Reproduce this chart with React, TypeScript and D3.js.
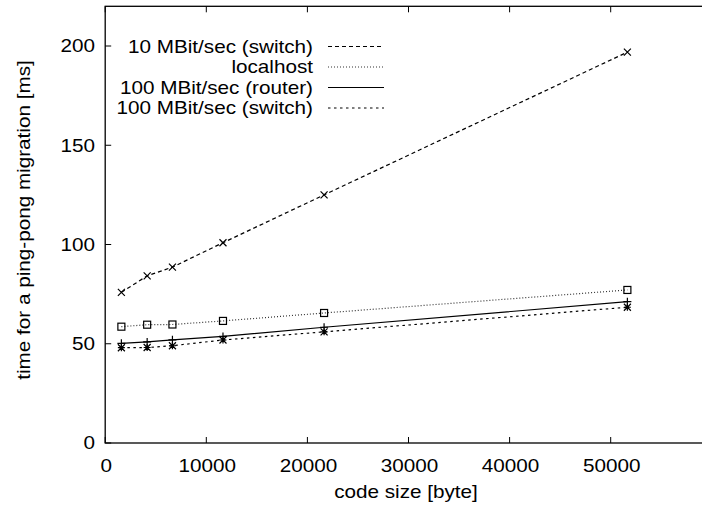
import React from "react";
import * as d3 from "d3";

const codeSizes = [1600, 4150, 6650, 11650, 21650, 51650];
const switch10 = [75.9, 84.2, 88.6, 100.9, 125.0, 196.9];
const localhost = [58.6, 59.6, 59.7, 61.5, 65.5, 77.1];
const router100 = [50.2, 50.9, 52.0, 53.7, 58.3, 71.2];
const switch100 = [48.0, 48.1, 49.0, 51.9, 56.0, 68.4];

const xTicks = [0, 10000, 20000, 30000, 40000, 50000];
const yTicks = [0, 50, 100, 150, 200];

const seriesNames = [
  "10 MBit/sec (switch)",
  "localhost",
  "100 MBit/sec (router)",
  "100 MBit/sec (switch)",
];

const W = 702;
const H = 507;
const font = "'Liberation Sans', Arial, sans-serif";
const sx = 1.15; // reference glyphs are a bit wider than Liberation Sans

type Series = { name: string; values: number[]; dash: string; marker: string; color: string };

const series: Series[] = [
  { name: seriesNames[0], values: switch10, dash: "4,3", marker: "x", color: "#000" },
  { name: seriesNames[1], values: localhost, dash: "1,2", marker: "box", color: "#333" },
  { name: seriesNames[2], values: router100, dash: "", marker: "plus", color: "#000" },
  { name: seriesNames[3], values: switch100, dash: "2.5,3.5", marker: "star", color: "#000" },
];

function T({
  x,
  y,
  anchor = "start",
  rotate = 0,
  children,
}: {
  x: number;
  y: number;
  anchor?: string;
  rotate?: number;
  children: React.ReactNode;
}) {
  return (
    <text
      transform={`translate(${x},${y}) rotate(${rotate}) scale(${sx},1)`}
      textAnchor={anchor}
      dy="0.35em"
    >
      {children}
    </text>
  );
}

function Marker({ kind, x, y }: { kind: string; x: number; y: number }) {
  const s = 3.5;
  const st = { stroke: "#000", strokeWidth: 1.2, fill: "none" };
  if (kind === "x")
    return (
      <path {...st} d={`M${x - s},${y - s}L${x + s},${y + s}M${x - s},${y + s}L${x + s},${y - s}`} />
    );
  if (kind === "plus")
    return <path {...st} d={`M${x - s - 0.5},${y}H${x + s + 0.5}M${x},${y - s - 0.5}V${y + s + 0.5}`} />;
  if (kind === "star")
    return (
      <path
        {...st}
        d={`M${x - s},${y}H${x + s}M${x},${y - s}V${y + s}M${x - s},${y - s}L${x + s},${y + s}M${x - s},${y + s}L${x + s},${y - s}`}
      />
    );
  return <rect {...st} x={x - s} y={y - s} width={2 * s} height={2 * s} />;
}

export default function App() {
  const x = d3.scaleLinear().domain([0, 60000]).range([105.2, 711.8]);
  const y = d3.scaleLinear().domain([0, 220]).range([443, 6.3]);
  const line = d3
    .line<number>()
    .x((_, i) => x(codeSizes[i]))
    .y((d) => y(d));

  const tick = 6;
  const legendTop = 46.5;
  const legendStep = 20.5;

  return (
    <svg
      width={W}
      height={H}
      style={{ position: "absolute", left: 0, top: 0, background: "#fff" }}
      fontFamily={font}
      fontSize={18}
    >
      <rect width={W} height={H} fill="#fff" />
      {/* frame */}
      <rect
        x={x(0)}
        y={y(220)}
        width={x(60000) - x(0)}
        height={y(0) - y(220)}
        fill="none"
        stroke="#000"
        strokeWidth={1.3}
      />
      {xTicks.map((t) => (
        <g key={"x" + t}>
          <line x1={x(t)} x2={x(t)} y1={y(0)} y2={y(0) - tick} stroke="#000" />
          <line x1={x(t)} x2={x(t)} y1={y(220)} y2={y(220) + tick} stroke="#000" />
          <T x={x(t) + 1} y={y(0) + 23} anchor="middle">
            {t}
          </T>
        </g>
      ))}
      {yTicks.map((t) => (
        <g key={"y" + t}>
          <line x1={x(0)} x2={x(0) + tick} y1={y(t)} y2={y(t)} stroke="#000" />
          <T x={95} y={y(t)} anchor="end">
            {t}
          </T>
        </g>
      ))}
      <T x={406} y={492} anchor="middle">
        code size [byte]
      </T>
      <T x={24} y={220} anchor="middle" rotate={-90}>
        time for a ping-pong migration [ms]
      </T>

      {series.map((s) => (
        <g key={s.name}>
          <path
            d={line(s.values) ?? ""}
            fill="none"
            stroke={s.color}
            strokeWidth={1.2}
            strokeDasharray={s.dash || undefined}
          />
          {s.values.map((v, i) => (
            <Marker key={i} kind={s.marker} x={x(codeSizes[i])} y={y(v)} />
          ))}
        </g>
      ))}

      {series.map((s, i) => {
        const ly = legendTop + i * legendStep;
        return (
          <g key={"lg" + i}>
            <T x={313} y={ly} anchor="end">
              {s.name}
            </T>
            <line
              x1={328}
              x2={384}
              y1={ly}
              y2={ly}
              stroke={s.color}
              strokeWidth={1.2}
              strokeDasharray={s.dash || undefined}
            />
          </g>
        );
      })}
    </svg>
  );
}
